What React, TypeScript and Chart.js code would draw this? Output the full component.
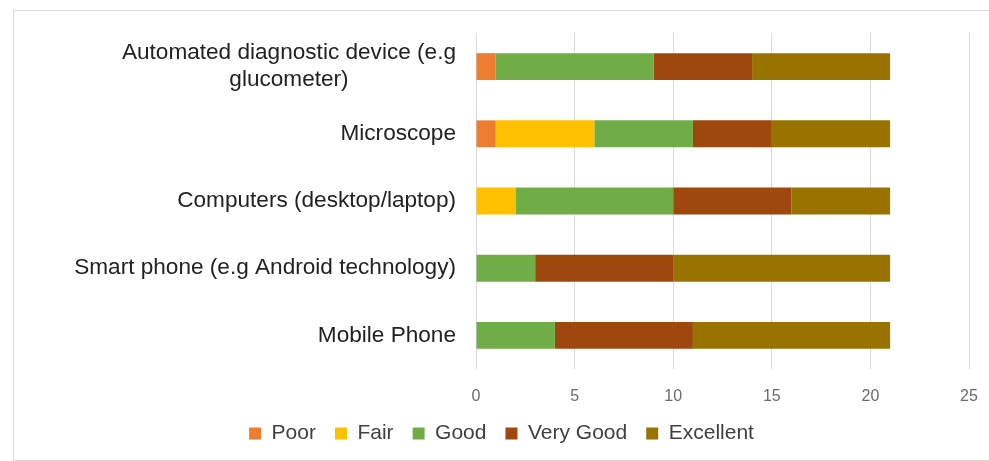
import React, { useEffect, useRef } from "react";
import { Chart, registerables } from "chart.js";

Chart.register(...registerables);

const categories: (string | string[])[] = [
  ["Automated diagnostic device (e.g", "glucometer)"],
  "Microscope",
  "Computers (desktop/laptop)",
  "Smart phone (e.g Android technology)",
  "Mobile Phone",
];
const seriesNames = ["Poor", "Fair", "Good", "Very Good", "Excellent"];
const poor = [1, 1, 0, 0, 0];
const fair = [0, 5, 2, 0, 0];
const good = [8, 5, 8, 3, 4];
const veryGood = [5, 4, 6, 7, 7];
const excellent = [7, 6, 5, 11, 10];
const xMin = 0;
const xMax = 25;
const xStep = 5;

const colors = ["#ED7D31", "#FFC000", "#70AD47", "#9E480E", "#997300"];
const FONT = '"Liberation Sans", Arial, sans-serif';

const labelPlugin = {
  id: "catLabels",
  afterDraw(chart: any) {
    const { ctx } = chart;
    const y = chart.scales.y;
    ctx.save();
    ctx.font = `22.6px ${FONT}`;
    ctx.fillStyle = "#222222";
    ctx.textBaseline = "middle";
    ctx.textAlign = "center";
    const right = chart.chartArea.left - 20;
    categories.forEach((c, i) => {
      const lines = Array.isArray(c) ? c : [c];
      const w = Math.max(...lines.map((l) => ctx.measureText(l).width));
      const cy = y.getPixelForValue(i);
      const lh = 27;
      lines.forEach((l, j) => {
        ctx.fillText(l, right - w / 2, cy + (j - (lines.length - 1) / 2) * lh);
      });
    });
    ctx.restore();
  },
};

export default function App() {
  const ref = useRef<HTMLCanvasElement>(null);
  useEffect(() => {
    if (!ref.current) return;
    const values = [poor, fair, good, veryGood, excellent];
    const chart = new Chart(ref.current, {
      type: "bar",
      data: {
        labels: categories as any,
        datasets: seriesNames.map((name, i) => ({
          label: name,
          data: values[i],
          backgroundColor: colors[i],
          borderWidth: 0,
          barPercentage: 0.5,
          categoryPercentage: 0.8,
        })),
      },
      options: {
        indexAxis: "y",
        responsive: false,
        animation: false,
        layout: { padding: { top: 33, right: 20, left: 34, bottom: 7 } },
        scales: {
          x: {
            stacked: true,
            min: xMin,
            max: xMax,
            ticks: {
              stepSize: xStep,
              color: "#6b6b6b",
              font: { size: 16, family: FONT },
              padding: 18,
            },
            grid: { color: "#d9d9d9", drawTicks: false },
            border: { display: false },
            afterFit: (s: any) => {
              s.height = 35;
              s.paddingLeft = 0;
              s.paddingRight = 0;
            },
          },
          y: {
            stacked: true,
            ticks: { display: false },
            grid: { display: false },
            border: { display: false },
            afterFit: (s: any) => {
              s.width = 442;
            },
          },
        },
        plugins: {
          legend: {
            position: "bottom",
            labels: {
              boxWidth: 12,
              boxHeight: 12,
              padding: 19,
              color: "#404040",
              font: { size: 21, family: FONT },
            },
          },
          tooltip: { enabled: false },
        },
      },
      plugins: [labelPlugin],
    });
    return () => chart.destroy();
  }, []);

  return (
    <div
      style={{
        position: "fixed",
        left: 0,
        top: 0,
        width: 989,
        height: 461,
        overflow: "hidden",
        background: "#ffffff",
      }}
    >
      <div
        style={{
          position: "absolute",
          left: 13,
          top: 10,
          width: 1000,
          height: 449,
          border: "1px solid #d9d9d9",
        }}
      />
      <canvas
        ref={ref}
        width={989}
        height={461}
        style={{ position: "absolute", left: 0, top: 0, display: "block" }}
      />
    </div>
  );
}
